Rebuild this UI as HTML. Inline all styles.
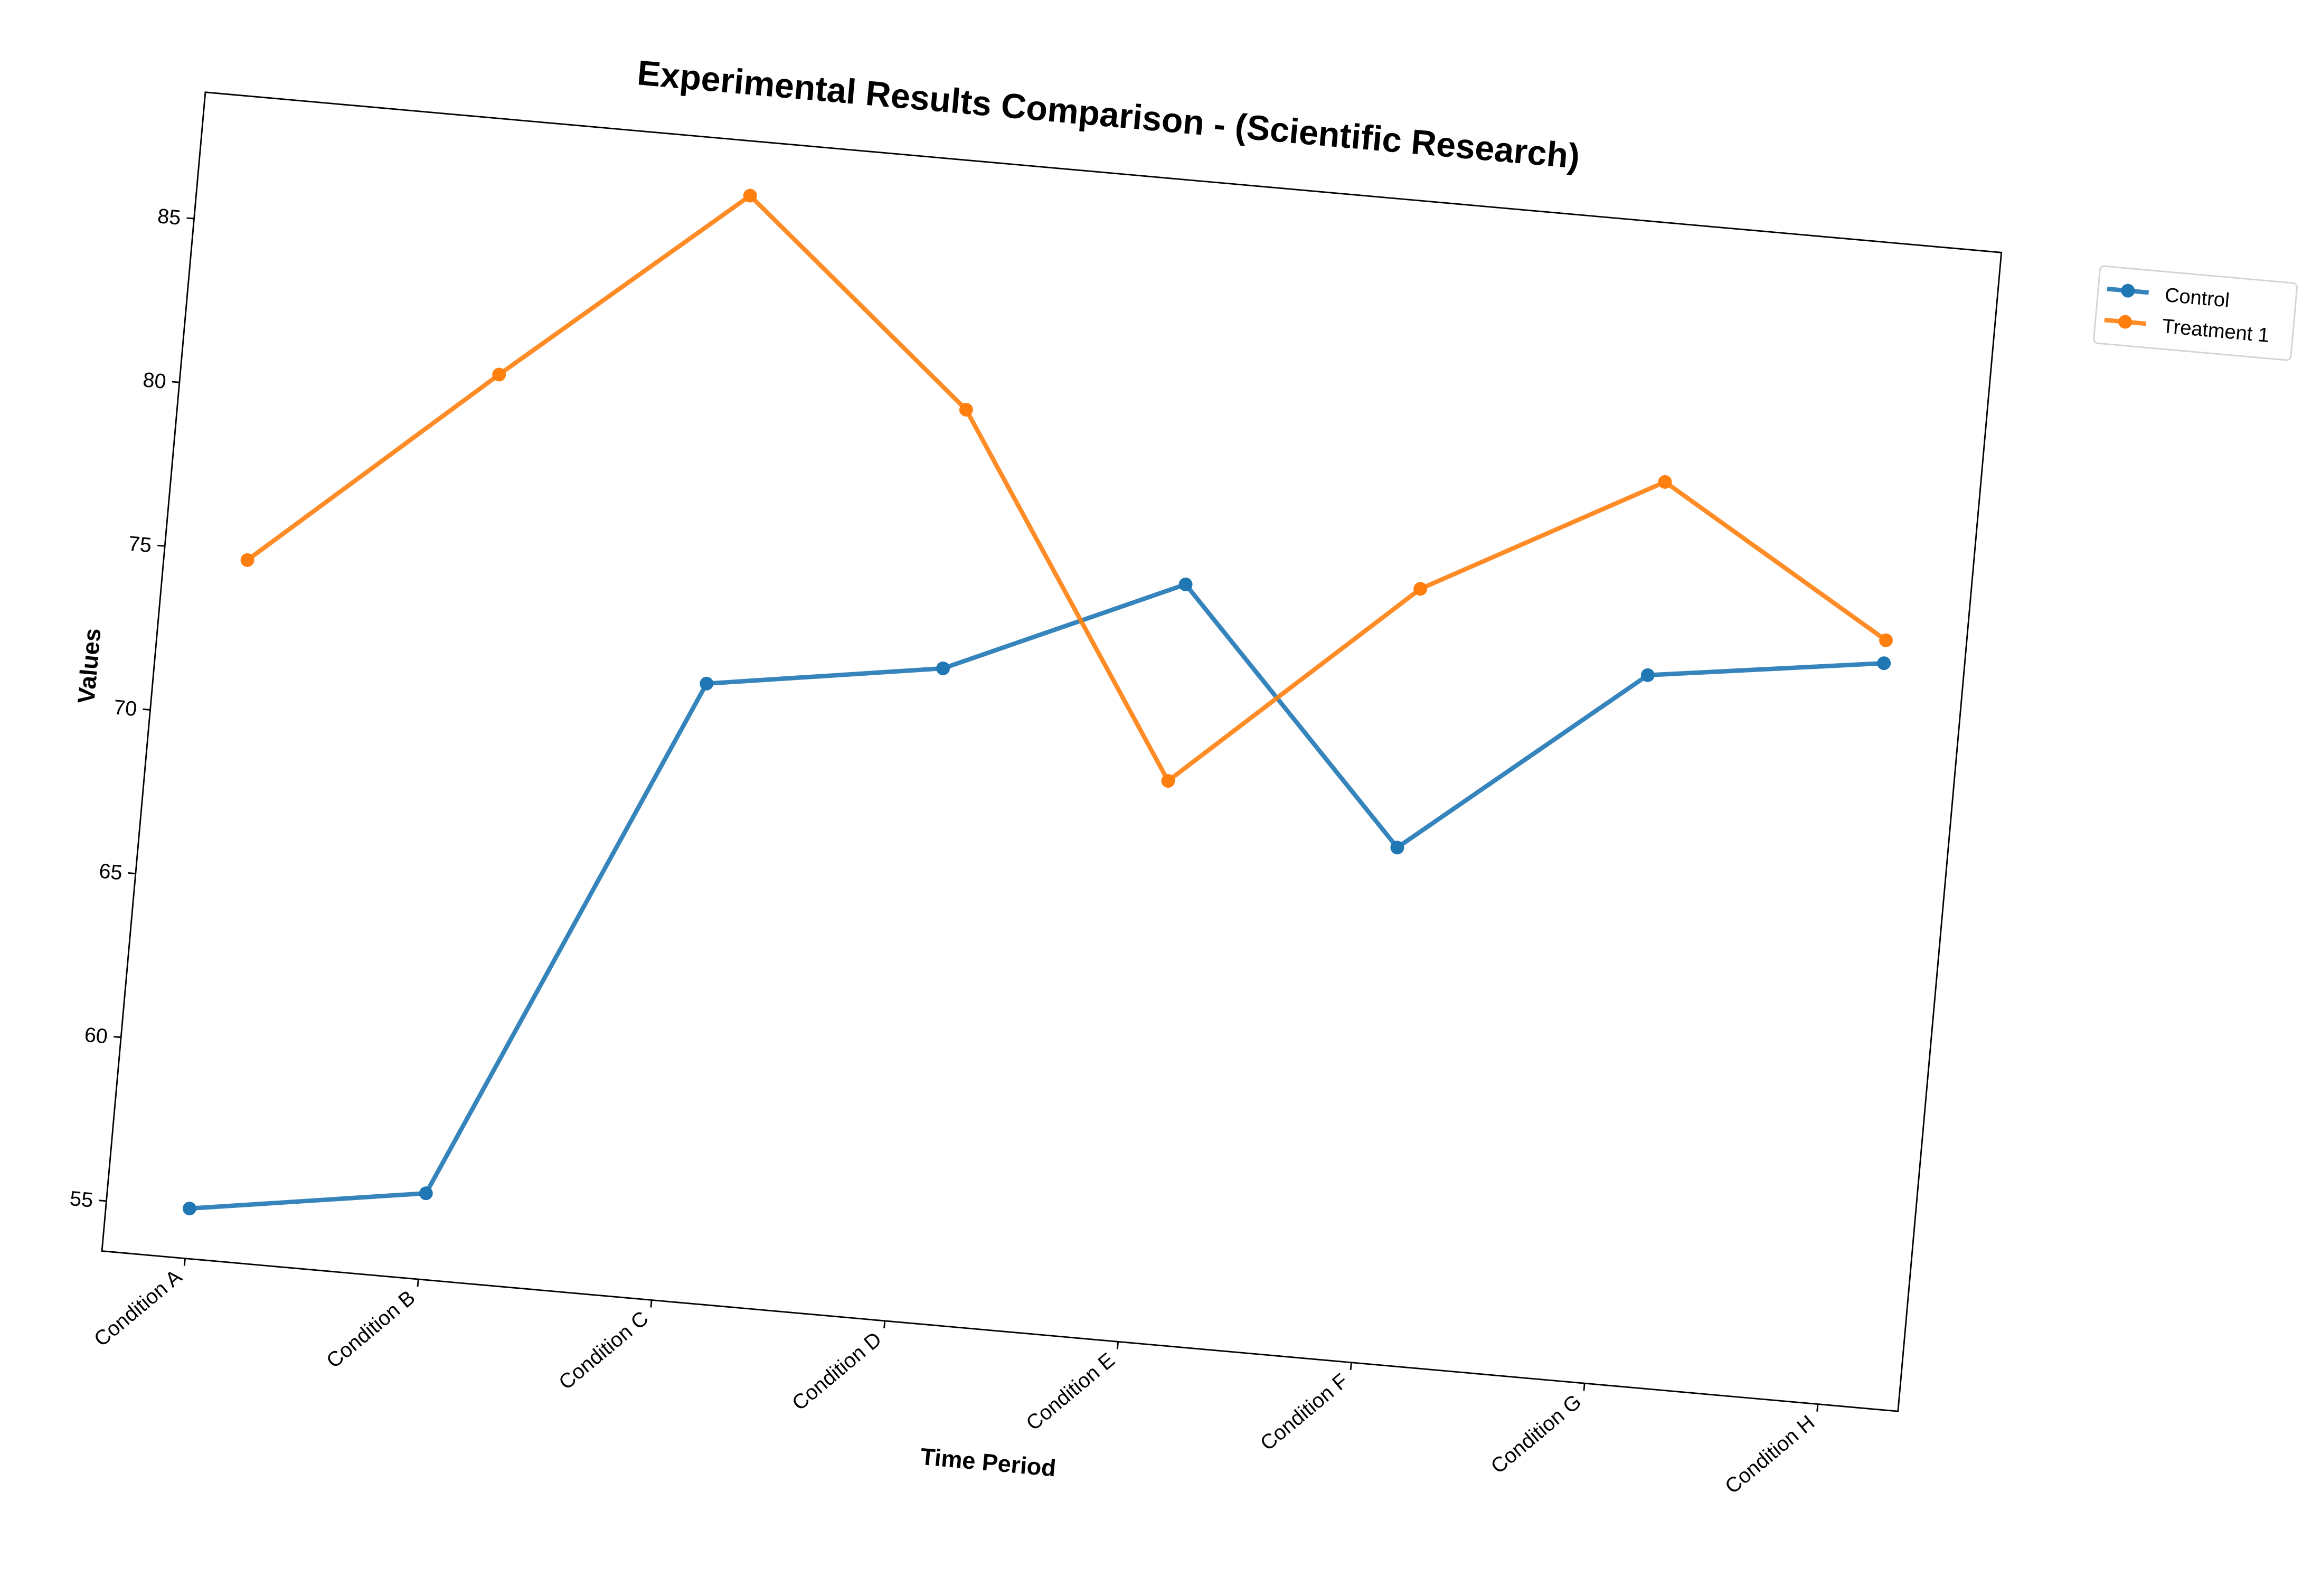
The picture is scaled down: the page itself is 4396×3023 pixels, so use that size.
<!DOCTYPE html>
<html><head><meta charset="utf-8"><style>
html,body{margin:0;padding:0;background:#fff;}
svg{display:block;}
text{font-family:"Liberation Sans",Arial,sans-serif;fill:#000;}
</style></head><body>
<svg id="chart" width="4396" height="3023" viewBox="0 0 1560 1072.8" xmlns="http://www.w3.org/2000/svg">
<rect width="1560" height="1072.8" fill="#fff"/>
<g id="rot" transform="translate(138,62) rotate(5.1)"></g>
</svg>
<script>
const categories = ["Condition A","Condition B","Condition C","Condition D","Condition E","Condition F","Condition G","Condition H"];
const controlValues = [55.0, 56.1, 72.3, 73.4, 76.6, 69.2, 75.1, 76.1];
const treatmentValues = [74.8, 81.1, 87.2, 81.3, 70.6, 77.1, 81.0, 76.8];
const yTicks = [55, 60, 65, 70, 75, 80, 85];
const seriesNames = ["Control", "Treatment 1"];

const NS = "http://www.w3.org/2000/svg";
const g = document.getElementById("rot");
const W = 1212, H = 782;
function xPos(i){ return 56.1 + i * 157.4; }
function yPos(v){ return 85.3 + (85 - v) * 22.1; }
function mk(tag, attrs, parent){
  const e = document.createElementNS(NS, tag);
  for (const k in attrs) e.setAttribute(k, attrs[k]);
  (parent || g).appendChild(e);
  return e;
}

const frame = mk("rect", {x:0, y:0, width:W, height:H, fill:"none", stroke:"#000", "stroke-width":1});



yTicks.forEach(v => {
  const y = yPos(v);
  const t = mk("line", {x1:-5, x2:0, y1:y, y2:y, stroke:"#000", "stroke-width":1});
  
  
  const l = mk("text", {x:-9, y:y + 5, "text-anchor":"end", "font-size":14});
  l.textContent = v;
  
  
});

categories.forEach((c, i) => {
  const x = xPos(i);
  const t = mk("line", {x1:x, x2:x, y1:H, y2:H + 5, stroke:"#000", "stroke-width":1});
  
  
  const l = mk("text", {x:0, y:0, "text-anchor":"end", "font-size":14, transform:`translate(${x + 0},${H + 14}) rotate(-45)`});
  l.textContent = c;
  
  
});

function drawSeries(vals, color, name){
  const pts = vals.map((v, i) => xPos(i) + "," + yPos(v)).join(" ");
  const pl = mk("polyline", {points:pts, fill:"none", stroke:color, "stroke-width":3, "stroke-opacity":0.9, "stroke-linejoin":"round"});
  
  
  vals.forEach((v, i) => {
    const c = mk("circle", {cx:xPos(i), cy:yPos(v), r:4.6, fill:color});
    
    
  });
}
drawSeries(controlValues, "#1f77b4", "control");
drawSeries(treatmentValues, "#ff7f0e", "treatment-1");

const title = mk("text", {x:606, y:-31, "text-anchor":"middle", "font-size":23.5, "font-weight":"bold"});
title.textContent = "Experimental Results Comparison - (Scientific Research)";



const yl = mk("text", {x:0, y:0, "text-anchor":"middle", "font-size":16, "font-weight":"bold", transform:"translate(-38,391) rotate(-90)"});
yl.textContent = "Values";



const xl = mk("text", {x:606, y:876, "text-anchor":"middle", "font-size":16, "font-weight":"bold"});
xl.textContent = "Time Period";



const lg = mk("g", {transform:"translate(1279,3)"});


const lbox = mk("rect", {x:0, y:0, width:133, height:52, rx:3, fill:"#fff", stroke:"#d3d3d3", "stroke-width":1}, lg);


[["#1f77b4", seriesNames[0], 15], ["#ff7f0e", seriesNames[1], 36]].forEach(([col, nm, y]) => {
  const e = mk("g", {}, lg);
  
  
  mk("line", {x1:6, x2:34, y1:y, y2:y, stroke:col, "stroke-width":3, "stroke-opacity":0.9}, e);
  mk("circle", {cx:20, cy:y, r:4.6, fill:col}, e);
  const t = mk("text", {x:45, y:y + 5, "font-size":13.5}, e);
  t.textContent = nm;
});
</script>
</body></html>
